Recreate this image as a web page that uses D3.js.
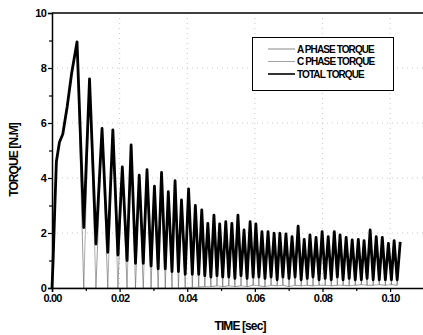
<!DOCTYPE html>
<html lang="en">
<head>
<meta charset="utf-8">
<title>Torque</title>
<script src="https://d3js.org/d3.v7.min.js"></script>
<style>
  body { margin: 0; background: #fff; }
  text { font-family: "Liberation Sans", Arial, sans-serif; font-weight: bold; }
</style>
</head>
<body>
<script>
// start-up rise of the total torque (before the first peak)
var startTime   = [0, 0.0003, 0.0008, 0.0013, 0.0022, 0.0032, 0.0045, 0.0058];
var startTorque = [0, 0.9, 2.8, 4.6, 5.3, 5.6, 6.6, 7.8];

// peaks of the total torque
var peakTime = [0.0074, 0.0111, 0.0148, 0.0180, 0.0208, 0.0234, 0.0258, 0.0281, 0.0303, 0.0324,
  0.0344, 0.0364, 0.0383, 0.0404, 0.0424,
  0.0443, 0.0461, 0.0479, 0.0496, 0.0514, 0.0532, 0.0550, 0.0568, 0.0586, 0.0603,
  0.0621, 0.0639, 0.0657, 0.0674, 0.0692, 0.0710, 0.0728, 0.0746, 0.0763, 0.0781,
  0.0799, 0.0817, 0.0835, 0.0852, 0.0870, 0.0888, 0.0906, 0.0923, 0.0941, 0.0959,
  0.0977, 0.0995, 0.1012, 0.1030];
var peakTorque = [8.95, 7.6, 5.8, 5.75, 4.4, 5.2, 4.1, 4.3, 3.7, 4.2,
  3.5, 3.9, 3.2, 3.6, 3.0,
  2.84, 2.35, 2.65, 2.33, 2.41, 2.35, 2.65, 2.11, 2.41, 2.33,
  2.05, 2.05, 1.99, 1.99, 1.97, 1.87, 2.25, 1.77, 1.93, 1.84,
  2.05, 1.87, 2.05, 1.93, 1.84, 1.75, 1.77, 1.72, 2.11, 1.87,
  1.84, 1.62, 1.72, 1.68];

// troughs of the total torque, one between each pair of peaks
var troughTime = [0.0094, 0.0130, 0.0165, 0.0195, 0.0222, 0.0247, 0.0270, 0.0293, 0.0314, 0.0335,
  0.0355, 0.0374, 0.0394, 0.0415, 0.0434,
  0.0452, 0.0470, 0.0488, 0.0505, 0.0523, 0.0541, 0.0559, 0.0577, 0.0595, 0.0612,
  0.0630, 0.0648, 0.0666, 0.0683, 0.0701, 0.0719, 0.0737, 0.0755, 0.0772, 0.0790,
  0.0808, 0.0826, 0.0844, 0.0861, 0.0879, 0.0897, 0.0915, 0.0932, 0.0950, 0.0968,
  0.0986, 0.1004, 0.1021];
var troughTorque = [2.2, 1.6, 1.3, 1.2, 1.0, 0.9, 0.9, 0.8, 0.7, 0.7,
  0.6, 0.6, 0.5, 0.5, 0.5,
  0.45, 0.4, 0.45, 0.4, 0.4, 0.35, 0.45, 0.35, 0.4, 0.4,
  0.35, 0.4, 0.3, 0.4, 0.35, 0.4, 0.3, 0.35, 0.4, 0.3,
  0.35, 0.3, 0.4, 0.3, 0.35, 0.3, 0.3, 0.35, 0.3, 0.3,
  0.3, 0.3, 0.3];
// where the single-phase torques bottom out at each trough
var phaseLow = [0, 0, 0, 0, 0, 0, 0, 0, 0, 0,
  0, 0, 0.02, 0.02, 0.03,
  0.05, 0.05, 0.08, 0.05, 0.08, 0.05, 0.08, 0.05, 0.1, 0.08,
  0.05, 0.1, 0.08, 0.1, 0.05, 0.1, 0.08, 0.1, 0.08, 0.1,
  0.1, 0.08, 0.1, 0.1, 0.08, 0.1, 0.12, 0.1, 0.1, 0.12,
  0.1, 0.12, 0.1];

var xTicks = [0, 0.02, 0.04, 0.06, 0.08, 0.10];
var xMinor = [0.01, 0.03, 0.05, 0.07, 0.09, 0.11];
var yTicks = [0, 2, 4, 6, 8, 10];
var yMinor = [1, 3, 5, 7, 9];
var legendLabels = ["A PHASE TORQUE", "C PHASE TORQUE", "TOTAL TORQUE"];

(function () {
  var width = 423, height = 335;
  var mLeft = 52, mTop = 13, mBottom = 288;

  var svg = d3.select("body").append("svg")
    .attr("width", width).attr("height", height);

  var x = d3.scaleLinear().domain([0, 0.1124]).range([mLeft, 432]);
  var y = d3.scaleLinear().domain([0, 10]).range([mBottom, mTop]);

  // dotted grid
  var grid = svg.append("g").attr("stroke", "#bbb").attr("stroke-width", 0.8)
    .attr("stroke-dasharray", "1,4");
  grid.selectAll(".gy").data(yTicks.slice(1, 5)).enter().append("line")
    .attr("x1", mLeft).attr("x2", width)
    .attr("y1", function (d) { return y(d); }).attr("y2", function (d) { return y(d); });
  grid.selectAll(".gx").data(xTicks.slice(1)).enter().append("line")
    .attr("x1", function (d) { return x(d); }).attr("x2", function (d) { return x(d); })
    .attr("y1", mTop).attr("y2", mBottom);

  // build series
  var total = [], phaseA = [], phaseC = [];
  startTime.forEach(function (t, i) { total.push([t, startTorque[i]]); phaseA.push([t, startTorque[i]]); });
  phaseC.push([0, 0]);
  peakTime.forEach(function (t, i) {
    total.push([t, peakTorque[i]]);
    var own = (i % 2 === 0) ? phaseA : phaseC;
    own.push([t, peakTorque[i]]);
    if (i < troughTime.length) {
      total.push([troughTime[i], troughTorque[i]]);
      phaseA.push([troughTime[i], phaseLow[i]]);
      phaseC.push([troughTime[i], phaseLow[i]]);
    }
  });

  var line = d3.line().x(function (d) { return x(d[0]); }).y(function (d) { return y(d[1]); });

  svg.append("path").datum(phaseC).attr("d", line)
    .attr("fill", "none").attr("stroke", "#8a8a8a").attr("stroke-width", 0.7);
  svg.append("path").datum(phaseA).attr("d", line)
    .attr("fill", "none").attr("stroke", "#555").attr("stroke-width", 0.6);
  svg.append("path").datum(total).attr("d", line)
    .attr("fill", "none").attr("stroke", "#000").attr("stroke-width", 2.8)
    .attr("stroke-linejoin", "round");

  // axes
  svg.append("g").attr("transform", "translate(" + mLeft + ",0)")
    .call(d3.axisLeft(y).tickValues(yTicks).tickSize(4).tickPadding(2).tickFormat(d3.format("d")));
  svg.append("g").attr("transform", "translate(" + mLeft + ",0)")
    .call(d3.axisLeft(y).tickValues(yMinor).tickSize(3).tickFormat(""))
    .select(".domain").remove();
  svg.append("g").attr("transform", "translate(0," + mBottom + ")")
    .call(d3.axisBottom(x).tickValues(xTicks).tickSize(4).tickPadding(2).tickFormat(d3.format(".2f")));
  svg.append("g").attr("transform", "translate(0," + mBottom + ")")
    .call(d3.axisBottom(x).tickValues(xMinor).tickSize(3).tickFormat(""))
    .select(".domain").remove();
  svg.selectAll(".domain").attr("stroke-width", 1.5);
  svg.selectAll(".tick line").attr("stroke-width", 1.2);
  svg.selectAll(".tick text").attr("font-size", 11).attr("letter-spacing", -0.8)
    .attr("font-family", "'Liberation Sans', Arial, sans-serif").attr("fill", "#000");

  // top frame line
  svg.append("line").attr("x1", mLeft).attr("x2", width).attr("y1", mTop).attr("y2", mTop)
    .attr("stroke", "#000").attr("stroke-width", 1.5);

  // titles
  svg.append("text").attr("x", 240).attr("y", 330).attr("text-anchor", "middle")
    .attr("font-size", 12).attr("letter-spacing", -0.9).text("TIME [sec]");
  svg.append("text").attr("transform", "translate(18,160) rotate(-90)").attr("text-anchor", "middle")
    .attr("font-size", 12).attr("letter-spacing", -0.9).text("TORQUE [N.M]");

  // legend
  var lg = svg.append("g");
  lg.append("rect").attr("x", 252.5).attr("y", 37.5).attr("width", 141).attr("height", 53)
    .attr("fill", "#fff").attr("stroke", "#000").attr("stroke-width", 1);
  var legStroke = ["#555", "#8a8a8a", "#000"], legWidth = [0.7, 0.8, 1.6];
  legendLabels.forEach(function (s, i) {
    var ly = 49 + i * 12.5;
    lg.append("line").attr("x1", 268).attr("x2", 295).attr("y1", ly).attr("y2", ly)
      .attr("stroke", legStroke[i]).attr("stroke-width", legWidth[i]);
    lg.append("text").attr("x", 297).attr("y", ly + 3.5).attr("font-size", 10)
      .attr("letter-spacing", -0.9).text(s);
  });
})();
</script>
</body>
</html>
